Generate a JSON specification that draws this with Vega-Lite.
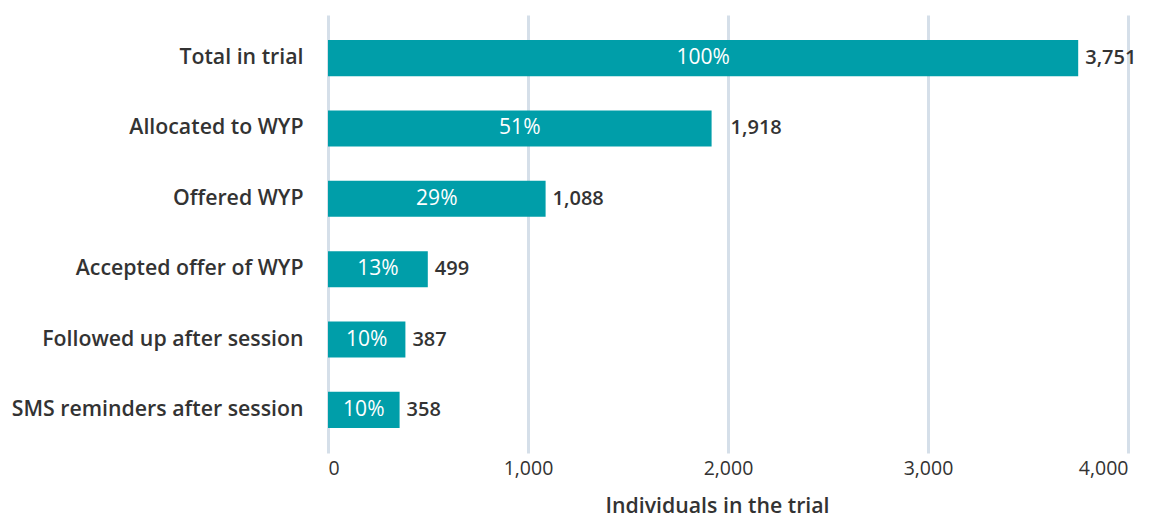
{
  "$schema": "https://vega.github.io/schema/vega-lite/v6.json",
  "width": 800,
  "height": 438,
  "autosize": {"type": "none"},
  "padding": {"left": 328, "top": 15, "right": 29, "bottom": 65},
  "background": "white",
  "config": {
    "view": {"stroke": null},
    "font": "Open Sans",
    "axis": {"labelFont": "Open Sans", "titleFont": "Open Sans"}
  },
  "data": {
    "values": [
      {"stage": "Total in trial", "n": 3751, "pct": "100%"},
      {"stage": "Allocated to WYP", "n": 1918, "pct": "51%"},
      {"stage": "Offered WYP", "n": 1088, "pct": "29%"},
      {"stage": "Accepted offer of WYP", "n": 499, "pct": "13%"},
      {"stage": "Followed up after session", "n": 387, "pct": "10%"},
      {"stage": "SMS reminders after session", "n": 358, "pct": "10%"}
    ]
  },
  "encoding": {
    "y": {
      "field": "stage",
      "type": "nominal",
      "sort": null,
      "title": null,
      "scale": {"paddingInner": 0.487, "paddingOuter": 0.356},
      "axis": {
        "domain": false,
        "ticks": false,
        "labelPadding": 25,
        "labelFontSize": 21.3,
        "labelFontWeight": 600,
        "labelColor": "#333333",
        "labelLimit": 400
      }
    }
  },
  "layer": [
    {
      "mark": {"type": "bar", "color": "#009ea9"},
      "encoding": {
        "x": {
          "field": "n",
          "type": "quantitative",
          "title": "Individuals in the trial",
          "scale": {"domain": [0, 4000], "nice": false},
          "axis": {
            "values": [0, 1000, 2000, 3000, 4000],
            "format": ",d",
            "domain": false,
            "ticks": false,
            "grid": true,
            "gridColor": "#d5dfe9",
            "gridWidth": 3,
            "labelFontSize": 19.5,
            "labelColor": "#333333",
            "labelPadding": 6,
            "titleFontSize": 21.3,
            "titleFontWeight": 600,
            "titleColor": "#333333",
            "titlePadding": 18,
            "titleX": 389
          }
        }
      }
    },
    {
      "transform": [{"filter": "datum.n != 1918"}],
      "mark": {"type": "text", "align": "left", "dx": 7, "fontSize": 20, "fontWeight": 600, "color": "#333333"},
      "encoding": {
        "x": {"field": "n", "type": "quantitative"},
        "text": {"field": "n", "type": "quantitative", "format": ",d"}
      }
    },
    {
      "transform": [{"filter": "datum.n == 1918"}],
      "mark": {"type": "text", "align": "left", "dx": 19, "fontSize": 20, "fontWeight": 600, "color": "#333333"},
      "encoding": {
        "x": {"field": "n", "type": "quantitative"},
        "text": {"field": "n", "type": "quantitative", "format": ",d"}
      }
    },
    {
      "transform": [{"calculate": "datum.n / 2", "as": "mid"}],
      "mark": {"type": "text", "align": "center", "fontSize": 21, "color": "white"},
      "encoding": {
        "x": {"field": "mid", "type": "quantitative"},
        "text": {"field": "pct", "type": "nominal"}
      }
    }
  ]
}
